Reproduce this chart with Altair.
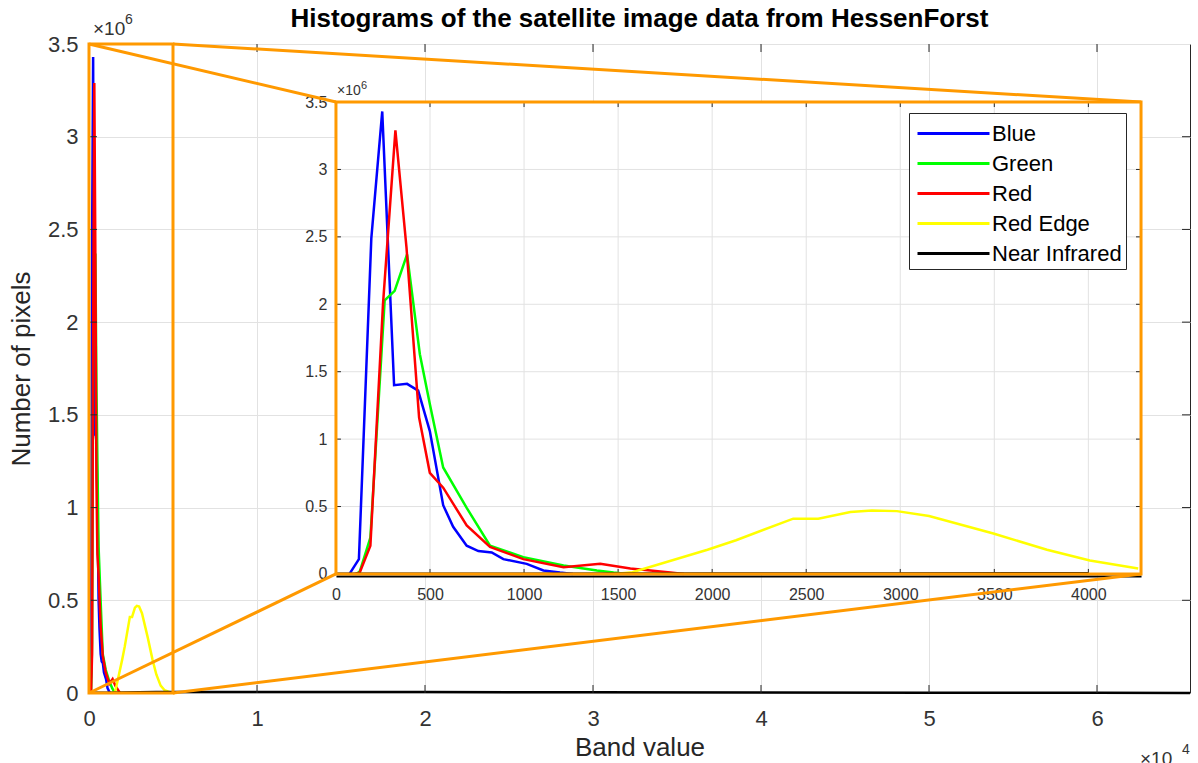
import altair as alt
import pandas as pd

FONT = "Liberation Sans"
AXIS_GRAY = "#262626"
LABEL_GRAY = "#333333"
ORANGE = "#ff9900"
GRID = "#e2e2e2"

# ---------------- data ----------------
BANDS = ["Blue", "Green", "Red", "Red Edge", "Near Infrared"]
BAND_COLORS = ["#0000ff", "#00ff00", "#ff0000", "#ffff00", "#000000"]

BLUE_X = [72, 122, 188, 246, 309, 378, 437, 499, 570, 623, 695, 757, 828, 890, 1014, 1103, 1191, 1260]
BLUE_M = [0.0, 0.11, 2.49, 3.43, 1.40, 1.41, 1.36, 1.06, 0.51, 0.35, 0.21, 0.17, 0.16, 0.11, 0.075, 0.026, 0.01, 0.0]

GREEN_X = [110, 127, 183, 259, 312, 378, 446, 499, 570, 695, 819, 996, 1210, 1387, 1476, 1550]
GREEN_M = [0.0, 0.02, 0.27, 2.03, 2.10, 2.37, 1.63, 1.26, 0.79, 0.49, 0.21, 0.125, 0.063, 0.025, 0.01, 0.0]

RED_X = [100, 126, 183, 250, 316, 375, 442, 499, 570, 695, 819, 996, 1210, 1405, 1565, 1778, 1850]
RED_M = [0.0, 0.01, 0.21, 2.0, 3.29, 2.42, 1.16, 0.75, 0.64, 0.36, 0.20, 0.11, 0.05, 0.075, 0.04, 0.01, 0.0]

REDEDGE_X = [1480, 1576, 1975, 2127, 2431, 2564, 2735, 2849, 2982, 3153, 3495, 3780, 4008, 4265, 4500, 4800, 5100]
REDEDGE_M = [0.0, 0.013, 0.18, 0.25, 0.41, 0.41, 0.46, 0.47, 0.466, 0.43, 0.30, 0.18, 0.10, 0.04, 0.015, 0.004, 0.0]

NIR_X = [0, 1000, 2000, 3000, 4000, 6000, 10000, 20000, 30000, 40000, 50000, 60000, 65535]
NIR_M = [0.001, 0.002, 0.003, 0.004, 0.005, 0.006, 0.006, 0.005, 0.004, 0.003, 0.002, 0.001, 0.0]

MAIN_X_MAX = 65535
Y_MAX = 3.5e6
MAIN_XTICKS = [0, 10000, 20000, 30000, 40000, 50000, 60000]
YTICKS = [0, 500000, 1000000, 1500000, 2000000, 2500000, 3000000, 3500000]

# zoomed region (orange rectangle) and inset placement, in main-axis data units
ZOOM_X = [0, 5000]
ZOOM_Y = [0, 3.5e6]
INSET_X = [14700, 62620]
INSET_Y = [0.642e6, 3.187e6]
INSET_X_MAX = 4280
INSET_XTICKS = [0, 500, 1000, 1500, 2000, 2500, 3000, 3500, 4000]

TITLE = "Histograms of the satellite image data from HessenForst"

# ---------------- layout ----------------
W, H = 1101, 649
ix0 = INSET_X[0] / MAIN_X_MAX * W
ix1 = INSET_X[1] / MAIN_X_MAX * W
iy_bot = H - INSET_Y[0] / Y_MAX * H
iy_top = H - INSET_Y[1] / Y_MAX * H
MAIN_TICK_PX = 8
INSET_TICK_PX = 5

rows = []
for band, xs, ms in zip(BANDS, [BLUE_X, GREEN_X, RED_X, REDEDGE_X, NIR_X],
                        [BLUE_M, GREEN_M, RED_M, REDEDGE_M, NIR_M]):
    for i, (x, m) in enumerate(zip(xs, ms)):
        rows.append({"band": band, "value": x, "count": m * 1e6, "i": i})
df = pd.DataFrame(rows)

color_scale = alt.Scale(domain=BANDS, range=BAND_COLORS)


def seg_chart(data, xs, ys, **mark):
    return alt.Chart(pd.DataFrame(data)).mark_rule(**mark).encode(
        x=alt.X("x:Q", scale=xs(), axis=None), x2="x2:Q",
        y=alt.Y("y:Q", scale=ys(), axis=None), y2="y2:Q",
    )


def inward_ticks(xticks, yticks, xmax, ymax, xlen, ylen):
    out = []
    for t in xticks:
        if 0 < t < xmax:
            out.append({"x": t, "x2": t, "y": 0, "y2": ylen})
            out.append({"x": t, "x2": t, "y": ymax, "y2": ymax - ylen})
    for t in yticks:
        if 0 < t < ymax:
            out.append({"x": 0, "x2": xlen, "y": t, "y2": t})
            out.append({"x": xmax, "x2": xmax - xlen, "y": t, "y2": t})
    return out


# ---------------- main axes ----------------
def mx_scale():
    return alt.Scale(domain=[0, MAIN_X_MAX], nice=False, zero=False)

def my_scale():
    return alt.Scale(domain=[0, Y_MAX], nice=False)

main_x_axis = alt.Axis(
    orient="bottom",
    values=MAIN_XTICKS, labelExpr="'' + datum.value / 10000", grid=True, gridColor=GRID,
    domain=False, ticks=False, tickSize=0, labelPadding=15, labelFontSize=22, labelFont=FONT,
    labelColor=LABEL_GRAY, labelFlush=False, labelOverlap=False,
    title="Band value", titleFont=FONT, titleFontSize=26, titleFontWeight="normal",
    titleColor=AXIS_GRAY, titleX=W / 2, titleY=62, titleBaseline="alphabetic",
)
main_y_axis = alt.Axis(
    orient="left",
    values=YTICKS, labelExpr="'' + datum.value / 1000000", grid=True, gridColor=GRID,
    domain=False, ticks=False, tickSize=0, labelPadding=11, labelFontSize=22, labelFont=FONT,
    labelColor=LABEL_GRAY, labelFlush=False, labelOverlap=False,
    title="Number of pixels", titleFont=FONT, titleFontSize=26, titleFontWeight="normal",
    titleColor=AXIS_GRAY, titleX=-60, titleY=H / 2, titleAngle=270, titleBaseline="alphabetic",
    titleAlign="center",
)

main_lines = alt.Chart(df).mark_line(strokeWidth=2.5).encode(
    x=alt.X("value:Q", scale=mx_scale(), axis=main_x_axis),
    y=alt.Y("count:Q", scale=my_scale(), axis=main_y_axis),
    color=alt.Color("band:N", scale=color_scale, legend=None),
    order="i:Q",
)

main_ticks = seg_chart(
    inward_ticks(MAIN_XTICKS, YTICKS, MAIN_X_MAX, Y_MAX,
                 MAIN_TICK_PX / W * MAIN_X_MAX, MAIN_TICK_PX / H * Y_MAX),
    mx_scale, my_scale, stroke=AXIS_GRAY, strokeWidth=1,
)

zoom_rect = alt.Chart(pd.DataFrame({"x": [ZOOM_X[0]], "x2": [ZOOM_X[1]], "y": [ZOOM_Y[0]], "y2": [ZOOM_Y[1]]})
                      ).mark_rect(filled=False, stroke=ORANGE, strokeWidth=3).encode(
    x=alt.X("x:Q", scale=mx_scale(), axis=None), x2="x2:Q",
    y=alt.Y("y:Q", scale=my_scale(), axis=None), y2="y2:Q",
)

connectors = seg_chart({
    "x": [ZOOM_X[0], ZOOM_X[1], ZOOM_X[0], ZOOM_X[1]],
    "y": [ZOOM_Y[1], ZOOM_Y[1], ZOOM_Y[0], ZOOM_Y[0]],
    "x2": [INSET_X[0], INSET_X[1], INSET_X[0], INSET_X[1]],
    "y2": [INSET_Y[1], INSET_Y[1], INSET_Y[0], INSET_Y[0]],
}, mx_scale, my_scale, stroke=ORANGE, strokeWidth=3)

# ---------------- inset axes ----------------
def ix_scale():
    return alt.Scale(domain=[0, INSET_X_MAX], range=[ix0, ix1], nice=False, zero=False)

def iy_scale():
    return alt.Scale(domain=[0, Y_MAX], range=[iy_bot, iy_top], nice=False)

inset_x_axis = alt.Axis(
    orient="bottom", offset=iy_bot - H + 2, values=INSET_XTICKS, format="d", grid=False,
    ticks=False, tickSize=0, domain=True, domainColor="#000000", domainWidth=2, labelPadding=11,
    labelFontSize=16, labelFont=FONT, labelColor=LABEL_GRAY, labelFlush=False,
    labelOverlap=False, title=None,
)
inset_y_axis = alt.Axis(
    orient="left", offset=-ix0, values=YTICKS, labelExpr="'' + datum.value / 1000000",
    grid=False, ticks=False, tickSize=0, domain=False, labelPadding=9, labelFontSize=16,
    labelFont=FONT, labelColor=LABEL_GRAY, labelFlush=False, labelOverlap=False, title=None,
)

ibox_df = pd.DataFrame({"x": [0], "x2": [INSET_X_MAX], "y": [0], "y2": [Y_MAX]})
inset_bg = alt.Chart(ibox_df).mark_rect(fill="white").encode(
    x=alt.X("x:Q", scale=ix_scale(), axis=None), x2="x2:Q",
    y=alt.Y("y:Q", scale=iy_scale(), axis=None), y2="y2:Q",
)

grid_rows = [{"x": g, "x2": g, "y": 0, "y2": Y_MAX} for g in INSET_XTICKS if 0 < g < INSET_X_MAX] + \
            [{"x": 0, "x2": INSET_X_MAX, "y": g, "y2": g} for g in YTICKS if 0 < g < Y_MAX]
inset_grid = seg_chart(grid_rows, ix_scale, iy_scale, stroke=GRID, strokeWidth=1)

inset_ticks = seg_chart(
    inward_ticks(INSET_XTICKS, YTICKS, INSET_X_MAX, Y_MAX,
                 INSET_TICK_PX / (ix1 - ix0) * INSET_X_MAX, INSET_TICK_PX / (iy_bot - iy_top) * Y_MAX),
    ix_scale, iy_scale, stroke=AXIS_GRAY, strokeWidth=1,
)

legend = alt.Legend(
    title=None, orient="none", legendX=820, legendY=69,
    symbolType="M-2.4,0L2.4,0", symbolSize=900, symbolStrokeWidth=2.8, symbolOffset=24,
    labelFont=FONT, labelFontSize=22, labelColor="black", labelLimit=400,
    strokeColor=AXIS_GRAY, fillColor="white", padding=4, rowPadding=2, labelOffset=22,
)

inset_lines = alt.Chart(df).transform_filter(
    alt.datum.value <= INSET_X_MAX
).mark_line(strokeWidth=2.5).encode(
    x=alt.X("value:Q", scale=ix_scale(), axis=inset_x_axis),
    y=alt.Y("count:Q", scale=iy_scale(), axis=inset_y_axis),
    color=alt.Color("band:N", scale=color_scale, legend=legend, sort=BANDS),
    order="i:Q",
)

inset_border = alt.Chart(ibox_df).mark_rect(filled=False, stroke=ORANGE, strokeWidth=3).encode(
    x=alt.X("x:Q", scale=ix_scale(), axis=None), x2="x2:Q",
    y=alt.Y("y:Q", scale=iy_scale(), axis=None), y2="y2:Q",
)

# ---------------- texts ----------------
def txt(s, x, y, size, weight="normal", align="left", color=LABEL_GRAY):
    return alt.Chart(pd.DataFrame({"t": [s]})).mark_text(
        font=FONT, fontSize=size, fontWeight=weight, align=align, baseline="alphabetic", color=color
    ).encode(text="t:N", x=alt.value(x), y=alt.value(y))

texts = [
    txt(TITLE, W / 2, -17, 26, weight="bold", align="center", color="black"),
    txt("×10", 4, -9, 19),
    txt("6", 36, -20, 14),
    txt("×10", 1051, 721, 19),
    txt("4", 1093, 710, 14),
    txt("×10", ix0 + 1, iy_top - 7, 14),
    txt("6", ix0 + 25, iy_top - 13, 11),
]

chart = alt.layer(
    main_lines, main_ticks, zoom_rect, connectors,
    inset_bg, inset_grid, inset_ticks, inset_lines, inset_border,
    *texts,
).resolve_scale(
    x="independent", y="independent", color="independent"
).properties(
    width=W, height=H,
    padding={"left": 89, "top": 44, "right": 8, "bottom": 70},
    autosize=alt.AutoSizeParams(type="none"),
    background="white",
).configure_view(stroke=AXIS_GRAY, strokeWidth=1)

chart.save("out.html", embed_options={"renderer": "svg", "actions": False})
